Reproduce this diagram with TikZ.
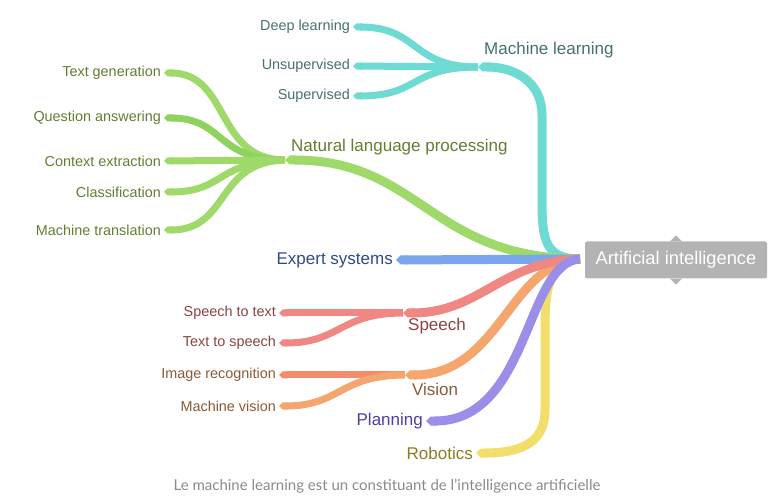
\documentclass[tikz,border=0pt]{standalone}
\usepackage{fontspec}
\setmainfont{Liberation Sans}
\newfontfamily\captionfont{Lato}
\usetikzlibrary{arrows.meta}

\definecolor{mlcol}{HTML}{6DDBD3}
\definecolor{nlpcol}{HTML}{9ED96A}
\definecolor{nlpdark}{HTML}{8ED35E}
\definecolor{expcol}{HTML}{7BA6EE}
\definecolor{spcol}{HTML}{EF8783}
\definecolor{viscol}{HTML}{F4A66E}
\definecolor{imgcol}{HTML}{F28C6C}
\definecolor{plancol}{HTML}{9A8EE8}
\definecolor{robcol}{HTML}{F2DF6B}
\definecolor{aicol}{HTML}{B3B3B3}
\definecolor{mltext}{HTML}{457070}
\definecolor{nlptext}{HTML}{637D30}
\definecolor{sptext}{HTML}{8B4242}
\definecolor{vistext}{HTML}{8A5A35}
\definecolor{exptext}{HTML}{2E4C8C}
\definecolor{plantext}{HTML}{4B3FA6}
\definecolor{robtext}{HTML}{8A7D25}
\definecolor{captext}{HTML}{8A8A8A}

\begin{document}
\begin{tikzpicture}[x=1pt,y=-1pt,
		branch/.style={line width=9pt,-{Triangle Cap}},
		twig/.style={line width=7pt,-{Triangle Cap}},
		leaf/.style={anchor=east,inner sep=3pt,font=\fontsize{14.4}{16}\selectfont},
		topic/.style={inner sep=1pt,font=\fontsize{17}{20}\selectfont}]
		\useasboundingbox (0,0) rectangle (772,497);

		% junction points
		\coordinate (ai) at (580,259);
		\coordinate (ml) at (478,67);
		\coordinate (nlp) at (285,160);
		\coordinate (sp) at (403,313);
		\coordinate (vis) at (405,375);

		% leaves
		\node[leaf,text=mltext] (dl) at (353,27) {Deep learning};
		\node[leaf,text=mltext] (uns) at (353,66) {Unsupervised};
		\node[leaf,text=mltext] (sup) at (353,96) {Supervised};
		\node[leaf,text=nlptext] (tg) at (164,73) {Text generation};
		\node[leaf,text=nlptext] (qa) at (164,118) {Question answering};
		\node[leaf,text=nlptext] (ce) at (164,161) {Context extraction};
		\node[leaf,text=nlptext] (cl) at (164,192) {Classification};
		\node[leaf,text=nlptext] (mt) at (164,230) {Machine translation};
		\node[leaf,text=sptext] (stt) at (279,313) {Speech to text};
		\node[leaf,text=sptext] (tts) at (279,343) {Text to speech};
		\node[leaf,text=vistext] (ir) at (279,375) {Image recognition};
		\node[leaf,text=vistext] (mv) at (279,406) {Machine vision};
		\node[topic,anchor=east,inner sep=3pt,text=exptext] (es) at (396,260) {Expert systems};
		\node[topic,anchor=east,inner sep=3pt,text=plantext] (pl) at (426,421) {Planning};
		\node[topic,anchor=east,inner sep=3pt,text=robtext] (rob) at (476,453) {Robotics};

		% topic labels
		\node[topic,anchor=west,text=mltext] (mllab) at (483,50) {Machine learning};
		\node[topic,anchor=west,text=nlptext] (nlplab) at (290,147) {Natural language processing};
		\node[topic,text=sptext] (splab) at (437,326) {Speech};
		\node[topic,text=vistext] (vislab) at (435,389) {Vision};

		% machine learning
		\draw[twig,mlcol] (ml) .. controls (410,67) and (420,27) .. (dl.east);
		\draw[twig,mlcol] (ml) -- (uns.east);
		\draw[twig,mlcol] (ml) .. controls (410,67) and (420,96) .. (sup.east);
		\draw[branch,mlcol] (ai) .. controls (545,259) and (542,240) .. (542,200) -- (542,115) .. controls (542,82) and (515,67) .. (ml);

		% natural language processing
		\draw[twig,nlpcol] (nlp) .. controls (215,160) and (230,73) .. (tg.east);
		\draw[twig,nlpdark] (nlp) .. controls (215,160) and (225,118) .. (qa.east);
		\draw[twig,nlpcol] (nlp) -- (ce.east);
		\draw[twig,nlpcol] (nlp) .. controls (215,162) and (225,192) .. (cl.east);
		\draw[twig,nlpcol] (nlp) .. controls (215,162) and (230,230) .. (mt.east);
		\draw[branch,nlpcol] (ai) .. controls (430,258) and (420,160) .. (nlp);

		% expert systems
		\draw[branch,expcol] (ai) -- (es.east);

		% robotics
		\draw[branch,robcol] (ai) .. controls (548,262) and (545,290) .. (545,330) -- (545,410) .. controls (545,440) and (525,453) .. (rob.east);

		% vision
		\draw[twig,imgcol] (vis) -- (ir.east);
		\draw[twig,viscol] (vis) .. controls (340,375) and (340,406) .. (mv.east);
		\draw[branch,viscol] (ai) .. controls (510,262) and (500,375) .. (vis);

		% speech
		\draw[twig,spcol] (sp) -- (stt.east);
		\draw[twig,spcol] (sp) .. controls (340,313) and (340,343) .. (tts.east);
		\draw[branch,spcol] (ai) .. controls (500,262) and (480,313) .. (sp);

		% planning
		\draw[branch,plancol] (ai) .. controls (525,262) and (530,421) .. (pl.east);

		% root
		\node[fill=aicol,rounded corners=2pt,minimum width=182pt,minimum height=37pt,text=white,
			font=\fontsize{18.3}{21}\selectfont] (root) at (676,260) {Artificial intelligence};
		\fill[aicol] ([xshift=-6pt]root.north) -- ++(6,-6) -- ++(6,6) -- cycle;
		\fill[aicol] ([xshift=-6pt]root.south) -- ++(6,6) -- ++(6,-6) -- cycle;

		\node[text=captext,font=\captionfont\fontsize{15}{18}\selectfont] (cap) at (387,486)
			{Le machine learning est un constituant de l’intelligence artificielle};
	\end{tikzpicture}
\end{document}
